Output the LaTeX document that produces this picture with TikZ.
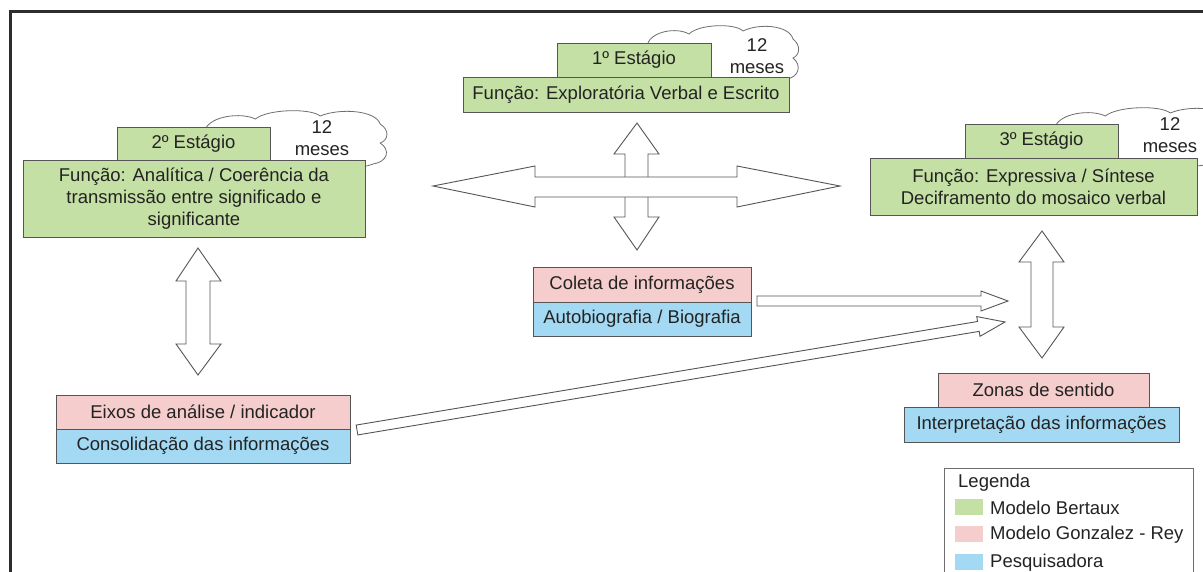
\documentclass[tikz,border=0pt]{standalone}
\usepackage{fontspec}
\setmainfont{Liberation Sans}
\usetikzlibrary{calc}
\definecolor{bgreen}{RGB}{197,224,164}
\definecolor{gpink}{RGB}{245,205,205}
\definecolor{pblue}{RGB}{163,217,243}
\definecolor{edgec}{RGB}{85,85,85}
\definecolor{txt}{RGB}{35,35,35}
\definecolor{framec}{RGB}{45,45,45}
\definecolor{cloudc}{RGB}{110,110,110}
\newcommand\fatarrow[4]{%
  \coordinate (#1-hb) at ($(#2)!27pt!(#1)$);
  \draw[fatshape] ($(#1)!#3!90:(#2)$) -- ($(#1-hb)!#3!-90:(#1)$) -- ($(#1-hb)!#4!-90:(#1)$) -- (#2)
     -- ($(#1-hb)!#4!90:(#1)$) -- ($(#1-hb)!#3!90:(#1)$) -- ($(#1)!#3!-90:(#2)$) -- cycle;
}
\begin{document}
\begin{tikzpicture}[x=1pt,y=-1pt,
  every node/.style={font=\fontsize{18.5}{22}\selectfont, text=txt},
  box/.style 2 args={draw=edgec, line width=1pt, minimum width=#1, minimum height=#2, inner sep=0pt, align=center},
  fatshape/.style={draw=edgec, fill=white, line width=0.9pt, line join=miter},
  cloudline/.style={draw=cloudc, fill=white, line width=0.8pt},
  swatch/.style={minimum width=28, minimum height=16, inner sep=0pt},
  cloudpic/.pic={
    \path[cloudline] (0,20) .. controls (4,6) and (30,2) .. (42,9)
      .. controls (52,-1) and (88,-2) .. (96,6)
      .. controls (112,-2) and (142,0) .. (146,14)
      .. controls (154,20) and (153,30) .. (146,33)
      .. controls (155,40) and (152,52) .. (140,54)
      .. controls (120,64) and (20,64) .. (0,52) -- cycle;
  }]
\useasboundingbox (0,0) rectangle (1203,571);
\clip (0,0) rectangle (1203,571);
\fill[white] (0,0) rectangle (1203,571);

% clouds
\pic at (647,25) {cloudpic};
\pic[xscale=1.2] at (205,110) {cloudpic};
\pic[xscale=1.2] at (1055,107) {cloudpic};

% stage boxes
\node[box={154}{34}, fill=bgreen] (s1t) at (634,60) {1º Estágio};
\node[box={326}{35}, fill=bgreen] (s1b) at (626,94.5) {Função: Exploratória Verbal e Escrito};
\node[box={153}{33}, fill=bgreen] (s2t) at (193.5,143.5) {2º Estágio};
\node[box={342}{77}, fill=bgreen] (s2b) at (194,198.5) {Função: Analítica / Coerência da\\transmissão entre significado e\\significante};
\node[box={153}{34}, fill=bgreen] (s3t) at (1041.5,141) {3º Estágio};
\node[box={327}{57}, fill=bgreen] (s3b) at (1033.5,186.5) {Função: Expressiva / Síntese\\Deciframento do mosaico verbal};

% cloud texts
\node[align=center, inner sep=0pt] (c1) at (757,56) {12\\meses};
\node[align=center, inner sep=0pt] (c2) at (322,138) {12\\meses};
\node[align=center, inner sep=0pt] (c3) at (1170,135) {12\\meses};

% other boxes
\node[box={218}{35}, fill=gpink] (colA) at (642,284.5) {Coleta de informações};
\node[box={218}{34}, fill=pblue] (colB) at (642,319) {Autobiografia / Biografia};
\node[box={294}{34}, fill=gpink] (eixA) at (203,412) {Eixos de análise / indicador};
\node[box={294}{34}, fill=pblue] (eixB) at (203,446) {Consolidação das informações};
\node[box={211}{34}, fill=gpink] (zonA) at (1043.5,390) {Zonas de sentido};
\node[box={275}{35}, fill=pblue] (zonB) at (1041.5,424.5) {Interpretação das informações};

% four-way arrow (vertical under horizontal)
\draw[fatshape] (637,123) -- (659,154) -- (648,154) -- (648,217) -- (659,217) -- (637,250)
  -- (614,217) -- (625,217) -- (625,154) -- (614,154) -- cycle;
\draw[fatshape] (433,186) -- (535,166) -- (535,177) -- (737,177) -- (737,166) -- (840,186)
  -- (737,207) -- (737,197) -- (535,197) -- (535,207) -- cycle;

% left vertical double arrow
\draw[fatshape] (198,248) -- (221,281) -- (210,281) -- (210,344) -- (221,344) -- (198,375)
  -- (176,344) -- (186,344) -- (186,281) -- (176,281) -- cycle;
% right vertical double arrow
\draw[fatshape] (1042,231) -- (1064,262) -- (1053,262) -- (1053,327) -- (1064,327) -- (1042,358)
  -- (1019,327) -- (1031,327) -- (1031,262) -- (1019,262) -- cycle;

% single fat arrows
\coordinate (a1t) at (757,301);
\coordinate (a1h) at (1008,301);
\fatarrow{a1t}{a1h}{5pt}{10pt}
\coordinate (a2t) at (357,430);
\coordinate (a2h) at (1005,322);
\fatarrow{a2t}{a2h}{5pt}{10pt}

% legend
\draw[draw=cloudc, line width=0.9pt] (944,600) -- (944,468) -- (1193,468) -- (1193,600);
\node[anchor=west, inner sep=0pt] (leg) at (958,483) {Legenda};
\node[swatch, fill=bgreen, anchor=north west] (sw1) at (955,499) {};
\node[swatch, fill=gpink, anchor=north west] (sw2) at (955,526) {};
\node[swatch, fill=pblue, anchor=north west] (sw3) at (955,554) {};
\node[anchor=west, inner sep=0pt] (l1) at (990,508) {Modelo Bertaux};
\node[anchor=west, inner sep=0pt] (l2) at (990,535) {Modelo Gonzalez - Rey};
\node[anchor=west, inner sep=0pt] (l3) at (990,563) {Pesquisadora};

% frame
\draw[framec, line width=3pt] (10,600) -- (10,11) -- (1220,11);
\end{tikzpicture}
\end{document}
